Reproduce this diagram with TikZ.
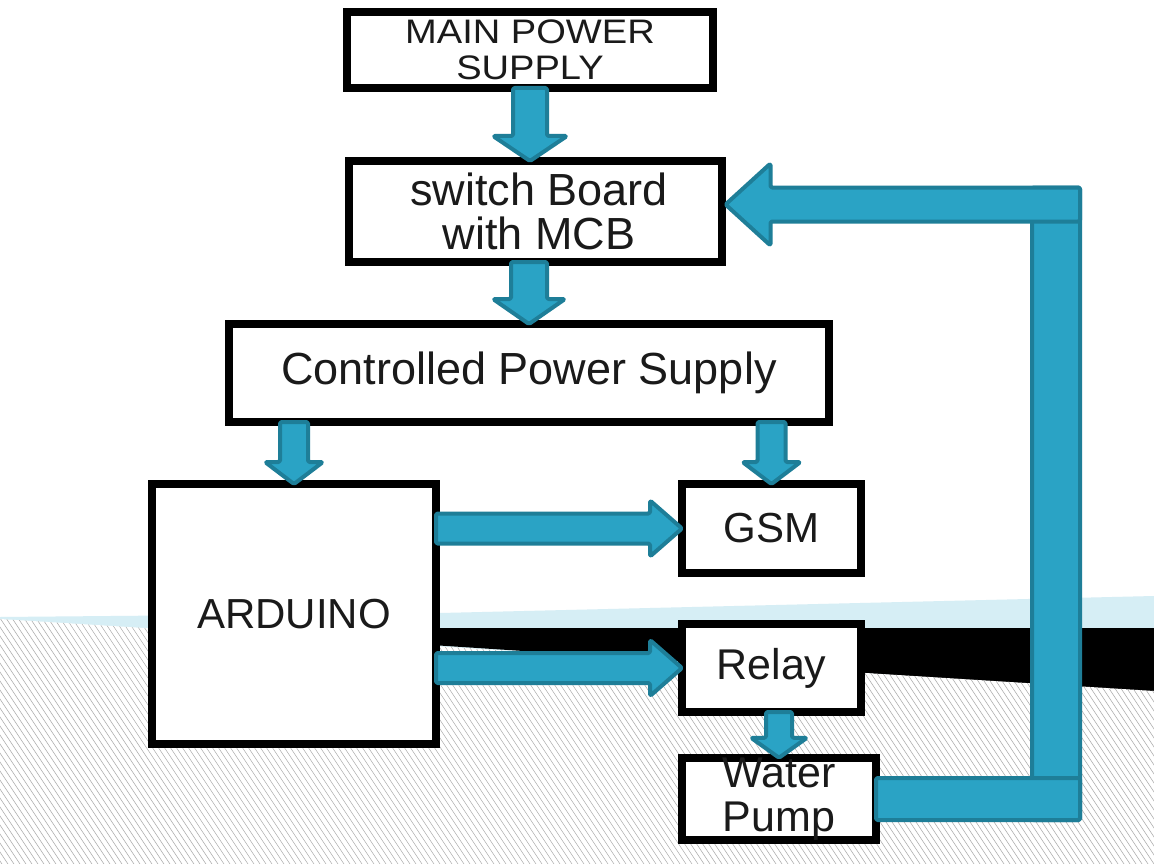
\documentclass[tikz,border=0pt]{standalone}
\usepackage{fontspec}
\setmainfont{Liberation Sans}
\newfontfamily\widesans[FakeStretch=1.12]{Liberation Sans}
\usetikzlibrary{calc}
\definecolor{arrowfill}{HTML}{2AA3C5}
\definecolor{arrowedge}{HTML}{1E7E98}
\definecolor{bandblue}{HTML}{D6EEF5}
\definecolor{hatchgray}{HTML}{ABABAB}
\definecolor{txt}{HTML}{1A1A1A}
\newcommand\fatdown[5]{\draw[fat] ($(#1)+(-#3,0)$) -- ($(#2)+(-#3,-#5)$) -- ($(#2)+(-#4,-#5)$) -- (#2) -- ($(#2)+(#4,-#5)$) -- ($(#2)+(#3,-#5)$) -- ($(#1)+(#3,0)$) -- cycle;}
\newcommand\fatright[5]{\draw[fat] ($(#1)+(0,-#3)$) -- ($(#2)+(-#5,-#3)$) -- ($(#2)+(-#5,-#4)$) -- (#2) -- ($(#2)+(-#5,#4)$) -- ($(#2)+(-#5,#3)$) -- ($(#1)+(0,#3)$) -- cycle;}
\newcommand\fatleft[5]{\draw[fat] ($(#1)+(0,-#3)$) -- ($(#2)+(#5,-#3)$) -- ($(#2)+(#5,-#4)$) -- (#2) -- ($(#2)+(#5,#4)$) -- ($(#2)+(#5,#3)$) -- ($(#1)+(0,#3)$) -- cycle;}
\tikzset{
  blk/.style={draw=black, fill=white, line width=8pt, rectangle, inner sep=0pt, outer sep=0pt, align=center, text=txt},
  fat/.style={fill=arrowfill, draw=arrowedge, line width=4pt, rounded corners=1.5pt, line join=round},
  hatch/.style={draw=hatchgray, line width=0.55pt}
}
\begin{document}
\begin{tikzpicture}[x=1pt,y=-1pt]
\useasboundingbox (0,0) rectangle (1154,864);
\fill[white] (0,0) rectangle (1154,864);
% background
\fill[bandblue] (0,617) -- (440,613) -- (1154,596) -- (1154,700) -- (0,700) -- cycle;
\fill[black] (170,628) -- (1154,628) -- (1154,692) -- cycle;
\begin{scope}
\clip (0,619) -- (1154,691) -- (1154,864) -- (0,864) -- cycle;
\fill[white] (0,600) rectangle (1154,864);
\foreach \i in {-40,...,200} \draw[hatch] (\i*6,600) -- ++(180,270);
\end{scope}
% boxes
\node[blk, minimum width=366, minimum height=76, font=\widesans\fontsize{34}{36}\selectfont] (main) at (530,50) {MAIN POWER\\SUPPLY};
\node[blk, minimum width=373, minimum height=101, font=\fontsize{45}{44}\selectfont] (sw) at (535,211.5) {\hspace*{8pt}switch Board\\\hspace*{8pt}with MCB};
\node[blk, minimum width=600, minimum height=98, font=\fontsize{45}{44}\selectfont] (cps) at (529,373) {Controlled Power Supply};
\node[blk, minimum width=284, minimum height=260, font=\fontsize{42}{44}\selectfont] (ard) at (294,614) {ARDUINO};
\node[blk, minimum width=179, minimum height=89, font=\fontsize{42}{44}\selectfont] (gsm) at (771.5,528.5) {GSM};
\node[blk, minimum width=179, minimum height=88, font=\fontsize{43}{44}\selectfont] (relay) at (771.5,668) {Relay};
\node[blk, minimum width=194, minimum height=76, font=\fontsize{43}{44}\selectfont] (pump) at (779,799) {Water\\Pump};
% connector anchor points
\coordinate (c0) at (main.south |- sw.north);
\coordinate (c1) at (cps.south -| ard.north);
\coordinate (c2) at (cps.south -| gsm.north);
\coordinate (c3) at (ard.east |- gsm.west);
\coordinate (c4) at (ard.east |- relay.west);
\coordinate (c5) at (relay.south -| pump.north);
\coordinate (c6) at (sw.south -| cps.north);
\coordinate (fbtip) at ([yshift=7pt,xshift=4pt]sw.east);
\coordinate (fbtop) at (1080,0 |- fbtip);
\coordinate (fbbot) at (pump.east -| fbtop);
% arrows
\fatdown{main.south}{c0}{17}{37}{25}
\fatdown{c6}{cps.north}{18}{36}{25}
\fatdown{c1}{ard.north}{14}{29}{22}
\fatdown{c2}{gsm.north}{14}{29}{22}
\fatright{c3}{gsm.west}{15}{28}{32}
\fatright{c4}{relay.west}{15}{28}{32}
\fatdown{c5}{pump.north}{13}{28}{20}
% feedback
\draw[fat] ($(fbtop)+(-48,-17)$) rectangle ($(fbbot)+(0,21)$);
\draw[fat] ($(pump.east)+(0,-21)$) rectangle ($(fbbot)+(0,21)$);
\fatleft{fbtop}{fbtip}{17}{41}{45}
\end{tikzpicture}
\end{document}
